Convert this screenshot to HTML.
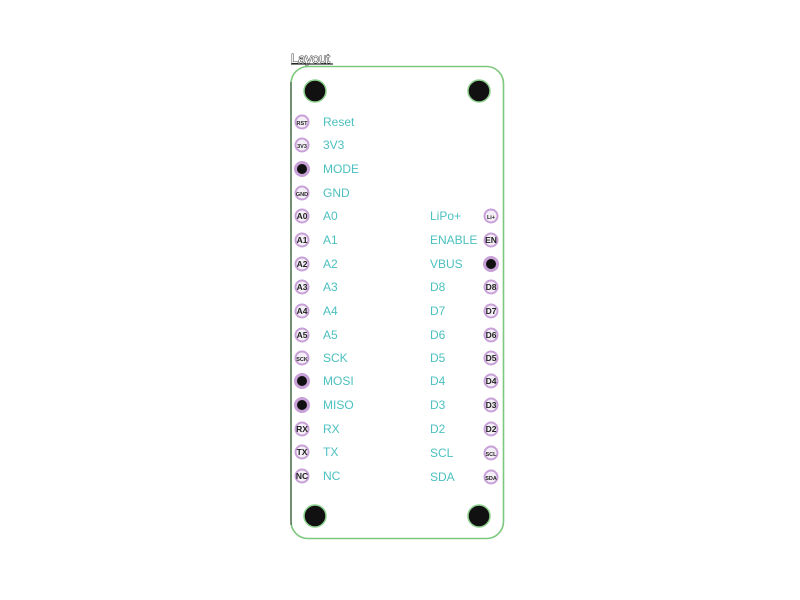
<!DOCTYPE html>
<html><head><meta charset="utf-8"><style>
html,body{margin:0;padding:0;background:#fff;width:800px;height:600px;overflow:hidden}
svg text{font-family:"Liberation Sans",sans-serif}
</style></head><body>
<svg width="800" height="600" viewBox="0 0 800 600" xmlns="http://www.w3.org/2000/svg">
<text x="291" y="63" font-size="13" fill="#fff" stroke="#000" stroke-width="0.8" paint-order="stroke">Layout</text>
<line x1="291" y1="64" x2="333" y2="64" stroke="#000" stroke-width="1"/>
<rect x="291" y="66.5" width="212.5" height="472" rx="17" fill="#fff" stroke="#7cc87c" stroke-width="1.6"/>
<line x1="291" y1="82" x2="291" y2="525" stroke="#222" stroke-width="0.8"/>
<g fill="#111" stroke="#8ed28e" stroke-width="1.5">
<circle cx="315" cy="91" r="11"/><circle cx="479" cy="91" r="11"/>
<circle cx="315" cy="516" r="11"/><circle cx="479" cy="516" r="11"/>
</g>
<script>
const ns="http://www.w3.org/2000/svg";
const svg=document.querySelector('svg');
function pad(x,y,lab){
 const c=document.createElementNS(ns,'circle');
 c.setAttribute('cx',x);c.setAttribute('cy',y);c.setAttribute('r',6.5);
 if(lab===null){c.setAttribute('fill','#111');c.setAttribute('stroke','#c8a0d8');c.setAttribute('stroke-width','3');}
 else{c.setAttribute('fill','#f4eef6');c.setAttribute('stroke','#c8a0d8');c.setAttribute('stroke-width','2');}
 svg.appendChild(c);
 if(lab){const t=document.createElementNS(ns,'text');t.setAttribute('x',x);t.setAttribute('y',y+3);
 t.setAttribute('text-anchor','middle');t.setAttribute('font-size',lab.length>2?5.5:8.5);t.setAttribute('font-weight','bold');t.setAttribute('fill','#222');t.textContent=lab;svg.appendChild(t);}
}
function label(x,y,s){const t=document.createElementNS(ns,'text');t.setAttribute('x',x);t.setAttribute('y',y+4);t.setAttribute('font-size','12');t.setAttribute('fill','#4cc0c0');t.textContent=s;svg.appendChild(t);}
const ly=[122,145,169,193,216,240,264,287,311,335,358,381,405,429,452,476];
const left=[["RST","Reset"],["3V3","3V3"],[null,"MODE"],["GND","GND"],["A0","A0"],["A1","A1"],["A2","A2"],["A3","A3"],["A4","A4"],["A5","A5"],["SCK","SCK"],[null,"MOSI"],[null,"MISO"],["RX","RX"],["TX","TX"],["NC","NC"]];
left.forEach((p,i)=>{pad(302,ly[i],p[0]);label(323,ly[i],p[1]);});
const right=[["Li+","LiPo+"],["EN","ENABLE"],[null,"VBUS"],["D8","D8"],["D7","D7"],["D6","D6"],["D5","D5"],["D4","D4"],["D3","D3"],["D2","D2"],["SCL","SCL"],["SDA","SDA"]];
right.forEach((p,i)=>{const y=ly[i+4]+(i>=10?1:0);pad(491,y,p[0]);label(430,y,p[1]);});
</script>
</svg>
</body></html>
